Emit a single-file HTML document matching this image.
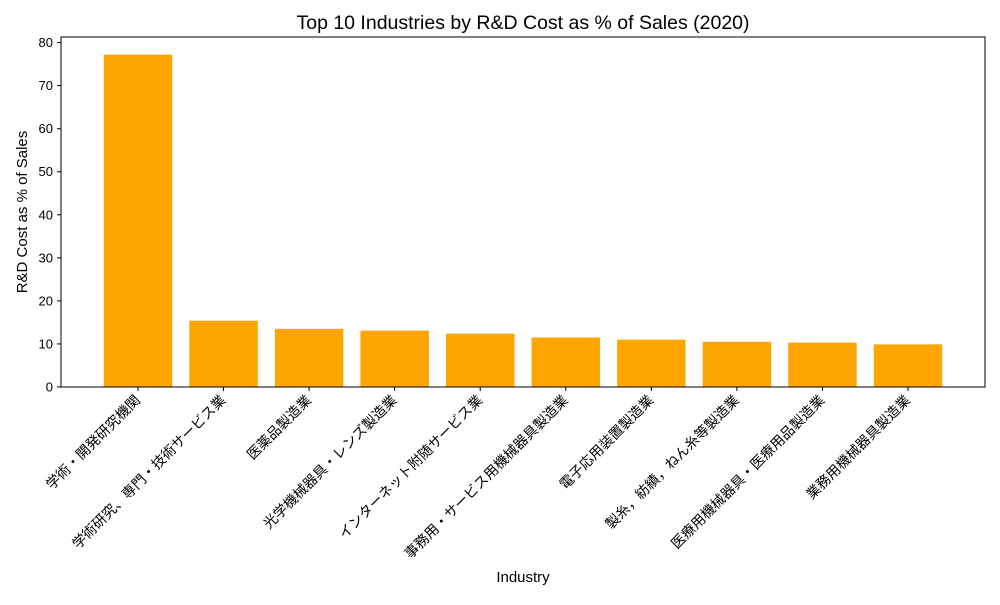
<!DOCTYPE html>
<html><head><meta charset="utf-8">
<style>
body{margin:0;background:#fff;}
svg text{font-family:"Liberation Sans","Noto Sans CJK JP",sans-serif;fill:#000;}
</style></head>
<body>
<svg id="chart" width="1000" height="600" xmlns="http://www.w3.org/2000/svg">
<rect x="0" y="0" width="1000" height="600" fill="#fff"/>
<text x="523" y="29" font-size="19.5" text-anchor="middle">Top 10 Industries by R&amp;D Cost as % of Sales (2020)</text>
<text x="523" y="582" font-size="15" text-anchor="middle">Industry</text>
<text x="0" y="0" font-size="15" text-anchor="middle" transform="translate(27,212) rotate(-90)">R&amp;D Cost as % of Sales</text>
<g id="bars"></g><g id="yticks"></g><g id="xticks"></g>
<rect x="61" y="37" width="924" height="350" fill="none" stroke="#000" stroke-width="1"/>
</svg>
<script>
const categories = ["学術・開発研究機関","学術研究、専門・技術サービス業","医薬品製造業","光学機械器具・レンズ製造業","インターネット附随サービス業","事務用・サービス用機械器具製造業","電子応用装置製造業","製糸，紡績，ねん糸等製造業","医療用機械器具・医療用品製造業","業務用機械器具製造業"];
const values = [77.2, 15.4, 13.5, 13.1, 12.4, 11.5, 11.0, 10.5, 10.3, 9.9];
const yTicks = [0,10,20,30,40,50,60,70,80];

const NS="http://www.w3.org/2000/svg";
const x0=61,x1=985,yBase=387,yTop=37;
const xmin=-0.9,xmax=9.9,ymax=81.3;
function xs(i){return x0+(i-xmin)/(xmax-xmin)*(x1-x0);}
function ys(v){return yBase-v/ymax*(yBase-yTop);}
const bw=0.8*(xs(1)-xs(0));
const gb=document.getElementById('bars'),gy=document.getElementById('yticks'),gx=document.getElementById('xticks');
values.forEach((v,i)=>{
  const r=document.createElementNS(NS,'rect');
  
  
  r.setAttribute('x',xs(i)-bw/2);r.setAttribute('y',ys(v));
  r.setAttribute('width',bw);r.setAttribute('height',yBase-ys(v));
  r.setAttribute('fill','#ffa500');
  gb.appendChild(r);
});
yTicks.forEach(t=>{
  const y=ys(t);
  const l=document.createElementNS(NS,'line');
  
  
  l.setAttribute('x1',57);l.setAttribute('x2',61);l.setAttribute('y1',y);l.setAttribute('y2',y);l.setAttribute('stroke','#000');
  gy.appendChild(l);
  const tx=document.createElementNS(NS,'text');
  
  
  tx.setAttribute('x',53);tx.setAttribute('y',y+4.5);tx.setAttribute('font-size','13');tx.setAttribute('text-anchor','end');
  tx.textContent=t;gy.appendChild(tx);
});
categories.forEach((c,i)=>{
  const x=xs(i);
  const l=document.createElementNS(NS,'line');
  
  
  l.setAttribute('x1',x);l.setAttribute('x2',x);l.setAttribute('y1',387);l.setAttribute('y2',391);l.setAttribute('stroke','#000');
  gx.appendChild(l);
  const tx=document.createElementNS(NS,'text');
  
  
  tx.setAttribute('font-size','14');tx.setAttribute('text-anchor','end');
  tx.setAttribute('transform','translate('+(x+3)+',401) rotate(-45)');
  tx.textContent=c;gx.appendChild(tx);
});
</script>
</body></html>
